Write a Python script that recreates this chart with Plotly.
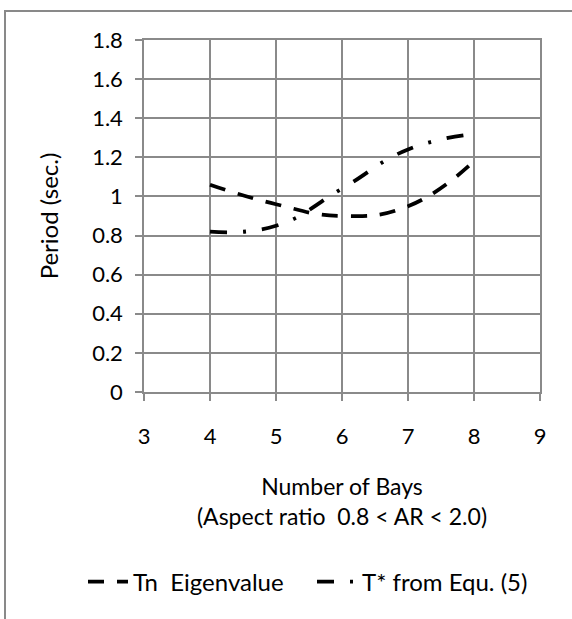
import plotly.graph_objects as go

# Data
bays = [4, 5, 6, 7, 8]
tn_eigen = [1.06, 0.96, 0.90, 0.95, 1.18]
t_star = [0.82, 0.85, 1.04, 1.24, 1.32]

name_tn = "Tn\u00a0 Eigenvalue"
name_ts = "T* from Equ. (5)"
x_ticks = [3, 4, 5, 6, 7, 8, 9]
y_ticks = [0, 0.2, 0.4, 0.6, 0.8, 1, 1.2, 1.4, 1.6, 1.8]
y_labels = ["0", "0.2", "0.4", "0.6", "0.8", "1", "1.2", "1.4", "1.6", "1.8"]

FONT = "Lato"
GRID = "#8a8a8a"

fig = go.Figure()
fig.add_trace(go.Scatter(
    x=bays, y=tn_eigen, name=name_tn, mode="lines",
    line=dict(color="black", width=3.8, dash="16px,13px", shape="spline", smoothing=1.3),
))
fig.add_trace(go.Scatter(
    x=bays, y=t_star, name=name_ts, mode="lines",
    line=dict(color="black", width=3.8, dash="17px,16px,3px,16px", shape="spline", smoothing=1.3),
))

fig.update_layout(
    width=572, height=619,
    margin=dict(l=144, r=32, t=40, b=227, autoexpand=False),
    paper_bgcolor="white", plot_bgcolor="white",
    font=dict(family=FONT, size=22, color="black"),
    showlegend=True,
    legend=dict(
        orientation="h", xref="paper", yref="paper",
        x=-0.154, xanchor="left", y=-0.54, yanchor="middle",
        font=dict(family=FONT, size=24, color="black"),
        itemwidth=40, entrywidth=174, entrywidthmode="pixels",
        bgcolor="rgba(0,0,0,0)",
    ),
    xaxis=dict(
        range=[3, 9], tickvals=x_ticks, ticktext=[str(v) for v in x_ticks],
        showgrid=True, gridcolor=GRID, gridwidth=1.5,
        showline=True, linecolor=GRID, linewidth=1.5, mirror=True,
        ticks="outside", ticklen=7, tickcolor=GRID, tickwidth=1.5,
        ticklabelstandoff=17, zeroline=False,
        tickfont=dict(family=FONT, size=22),
        title=dict(text="Number of Bays<br>(Aspect ratio\u00a0 0.8 < AR < 2.0)",
                   font=dict(family=FONT, size=23), standoff=31),
    ),
    yaxis=dict(
        range=[0, 1.8], tickvals=y_ticks, ticktext=y_labels,
        showgrid=True, gridcolor=GRID, gridwidth=1.5,
        showline=True, linecolor=GRID, linewidth=1.5, mirror=True,
        ticks="outside", ticklen=7, tickcolor=GRID, tickwidth=1.5,
        ticklabelstandoff=8, zeroline=False,
        tickfont=dict(family=FONT, size=22),
        title=dict(text="Period (sec.)", font=dict(family=FONT, size=24), standoff=27),
    ),
    shapes=[dict(
        type="rect", xref="paper", yref="paper",
        x0=-0.351, x1=1.12, y0=-0.70, y1=1.0824,
        line=dict(color="#898989", width=2), fillcolor="rgba(0,0,0,0)", layer="below",
    )],
)

fig.write_html("out.html", config={"displayModeBar": False},
               post_script="document.body.style.margin='0';")
